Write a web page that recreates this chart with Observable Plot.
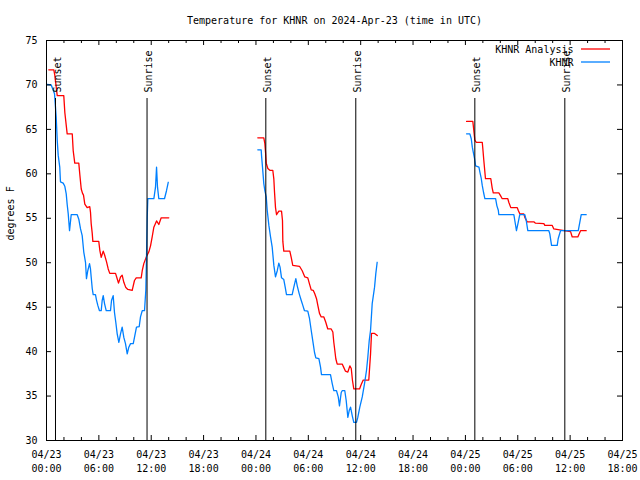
<!DOCTYPE html>
<html><head><meta charset="utf-8">
<script src="https://cdn.jsdelivr.net/npm/d3@7"></script>
<script src="https://cdn.jsdelivr.net/npm/@observablehq/plot@0.6"></script>
<style>html,body{margin:0;padding:0;background:#fff;} #chart{width:640px;height:480px;}</style>
</head><body><div id="chart"></div>
<script>
const chartTitle = "Temperature for KHNR on 2024-Apr-23 (time in UTC)";
const yLabel = "degrees F";
const seriesNames = ["KHNR Analysis", "KHNR"];
const seriesColors = ["#ff0000", "#0080ff"];
// x is hours since 04/23 00:00 UTC
const xMajorTicks = [0, 6, 12, 18, 24, 30, 36, 42, 48, 54, 60, 66];
const xTickLabels = ["04/23\n00:00","04/23\n06:00","04/23\n12:00","04/23\n18:00","04/24\n00:00","04/24\n06:00","04/24\n12:00","04/24\n18:00","04/25\n00:00","04/25\n06:00","04/25\n12:00","04/25\n18:00"];
const xMinorTicks = [2,4,8,10,14,16,20,22,26,28,32,34,38,40,44,46,50,52,56,58,62,64];
const yTicks = [30, 35, 40, 45, 50, 55, 60, 65, 70, 75];
const sunEventHours = [1.03, 11.52, 25.13, 35.44, 49.08, 59.39];
const sunEventNames = ["Sunset", "Sunrise", "Sunset", "Sunrise", "Sunset", "Sunrise"];

const analysisApr23 = [[0.26,71.7],[0.84,71.7],[0.95,71.1],[1.23,68.8],[1.98,68.8],[2.10,66.9],[2.37,64.5],[2.95,64.5],[3.06,62.6],[3.24,61.2],[3.70,61.2],[3.82,59.9],[3.98,58.3],[4.13,57.8],[4.24,57.6],[4.39,56.6],[4.66,56.2],[4.96,56.3],[5.04,55.7],[5.12,54.4],[5.24,53.3],[5.31,52.4],[5.99,52.4],[6.11,51.4],[6.27,50.6],[6.50,51.3],[6.65,50.9],[6.88,50.1],[7.07,49.3],[7.25,48.8],[7.91,48.8],[8.10,48.2],[8.25,47.7],[8.48,48.4],[8.67,48.6],[8.86,47.8],[9.09,47.2],[9.32,47.0],[9.82,46.9],[10.08,48.0],[10.28,48.3],[10.85,48.3],[10.97,49.1],[11.15,49.9],[11.46,50.7],[11.72,51.2],[11.92,51.9],[12.11,52.9],[12.30,54.0],[12.61,54.7],[12.87,54.3],[13.14,55.05],[14.01,55.05]];
const observedApr23 = [[0.08,70.05],[0.54,70.0],[0.77,69.4],[0.92,69.0],[1.03,67.5],[1.11,66.4],[1.23,63.75],[1.34,62.1],[1.52,60.75],[1.60,59.1],[1.91,58.95],[2.10,58.6],[2.26,57.75],[2.37,56.55],[2.49,55.5],[2.64,53.6],[2.83,55.4],[3.52,55.4],[3.70,54.9],[3.90,53.8],[4.09,53.05],[4.27,51.2],[4.47,50.05],[4.58,48.2],[4.73,49.1],[4.93,49.9],[5.04,49.3],[5.12,48.4],[5.24,47.1],[5.35,46.4],[5.61,46.4],[5.73,45.8],[5.88,45.2],[6.07,44.6],[6.27,44.6],[6.38,45.75],[6.50,46.3],[6.65,45.4],[6.84,44.6],[7.33,44.6],[7.45,45.75],[7.64,46.3],[7.79,44.4],[7.94,43.3],[8.10,42.0],[8.29,41.05],[8.48,42.0],[8.67,42.75],[8.86,41.6],[9.05,40.9],[9.25,39.75],[9.43,40.5],[9.63,40.9],[9.94,40.9],[10.12,41.8],[10.31,42.75],[10.62,42.8],[10.77,43.9],[10.97,44.6],[11.23,44.6],[11.38,46.9],[11.46,50.6],[11.54,55.1],[11.61,57.2],[12.30,57.2],[12.49,58.5],[12.61,60.75],[12.72,58.5],[12.87,57.2],[13.52,57.2],[13.75,58.1],[13.95,59.05]];
const analysisApr24 = [[24.21,64.05],[24.90,64.05],[25.02,63.4],[25.10,62.4],[25.18,61.2],[25.36,60.6],[25.59,60.4],[25.93,60.4],[26.05,59.4],[26.13,57.9],[26.24,56.2],[26.36,55.4],[26.62,55.8],[26.93,55.8],[27.04,54.75],[27.08,52.4],[27.19,51.3],[27.88,51.3],[28.04,50.6],[28.22,49.7],[28.99,49.6],[29.30,49.1],[29.60,48.4],[29.94,48.3],[30.14,47.6],[30.33,46.95],[30.56,46.9],[30.74,46.5],[30.94,45.95],[31.09,45.2],[31.28,44.3],[31.48,43.9],[31.78,43.9],[32.00,43.3],[32.23,42.55],[32.62,42.55],[32.81,42.2],[32.92,41.05],[33.04,40.1],[33.15,39.2],[33.31,38.6],[33.88,38.6],[34.07,38.2],[34.26,37.8],[34.53,37.7],[34.76,38.4],[34.92,38.1],[35.06,36.75],[35.21,35.8],[35.87,35.8],[36.06,36.3],[36.29,36.8],[36.93,36.8],[37.13,39.75],[37.24,42.05],[37.59,42.05],[37.90,41.8]];
const observedApr24 = [[24.21,62.7],[24.60,62.7],[24.64,62.05],[24.75,60.75],[24.90,58.9],[25.02,58.1],[25.18,57.4],[25.29,55.9],[25.48,54.2],[25.67,52.9],[25.86,51.75],[26.05,49.7],[26.24,48.4],[26.44,49.1],[26.62,49.95],[26.76,49.5],[26.93,48.3],[27.19,48.1],[27.35,47.25],[27.50,46.4],[28.15,46.4],[28.34,47.25],[28.57,48.2],[28.73,47.4],[28.96,46.5],[29.19,45.75],[29.37,45.2],[29.56,44.6],[29.94,44.55],[30.14,43.7],[30.33,42.4],[30.56,40.9],[30.71,39.9],[30.86,39.3],[31.21,39.2],[31.40,38.25],[31.51,37.4],[32.54,37.4],[32.74,36.4],[32.92,35.6],[33.23,35.6],[33.43,34.9],[33.57,33.9],[33.77,35.4],[33.88,35.6],[34.18,35.6],[34.34,34.5],[34.53,32.6],[34.69,33.4],[34.84,33.75],[35.03,32.8],[35.21,32.05],[35.52,32.05],[35.67,32.6],[35.90,33.75],[36.18,34.9],[36.44,36.4],[36.67,37.9],[36.82,39.4],[36.98,41.25],[37.13,42.4],[37.32,45.4],[37.59,47.25],[37.73,48.75],[37.89,50.05]];
const analysisApr25 = [[48.13,65.9],[48.85,65.9],[48.96,64.9],[49.08,63.8],[49.24,63.55],[49.93,63.55],[50.00,62.8],[50.11,61.5],[50.23,60.2],[50.30,59.45],[50.91,59.45],[51.07,58.4],[51.19,57.85],[51.83,57.85],[52.02,57.55],[52.22,57.2],[52.86,57.2],[52.97,56.8],[53.20,56.2],[53.94,56.2],[54.05,55.9],[54.23,55.5],[54.69,55.5],[54.81,55.1],[55.08,54.6],[55.84,54.6],[56.03,54.45],[56.99,54.4],[57.10,54.2],[57.95,54.2],[58.13,53.8],[58.79,53.7],[60.05,53.5],[60.24,52.9],[60.88,52.9],[61.19,53.6],[61.84,53.6]];
const observedApr25 = [[48.13,64.5],[48.51,64.5],[48.67,63.95],[48.79,63.0],[48.90,62.45],[49.05,61.7],[49.17,60.9],[49.55,60.75],[49.66,60.2],[49.82,59.45],[49.93,58.7],[50.08,57.9],[50.23,57.2],[51.46,57.2],[51.61,56.4],[51.77,55.9],[51.83,55.4],[53.55,55.4],[53.66,54.75],[53.85,53.6],[54.05,54.55],[54.23,55.4],[54.81,55.4],[54.97,54.75],[55.15,53.6],[57.56,53.6],[57.67,53.25],[57.87,51.95],[58.52,51.95],[58.63,52.7],[58.90,53.6],[60.93,53.6],[61.08,54.4],[61.27,55.4],[61.84,55.4]];

const toRows = (arr, day) => arr.map(([h, t]) => ({h, t, day}));
const analysisRows = [...toRows(analysisApr23, 1), ...toRows(analysisApr24, 2), ...toRows(analysisApr25, 3)];
const observedRows = [...toRows(observedApr23, 1), ...toRows(observedApr24, 2), ...toRows(observedApr25, 3)];
const sunEvents = sunEventHours.map((h, i) => ({h, name: sunEventNames[i]}));

const W = 640, H = 480, mL = 46, mR = 18, mT = 40, mB = 40;
const plotW = W - mL - mR, plotH = H - mT - mB;
const font = "'DejaVu Sans Mono', monospace";

const plot = Plot.plot({
  width: W, height: H,
  marginLeft: mL, marginRight: mR, marginTop: mT, marginBottom: mB,
  style: {fontFamily: font, fontSize: "10px", background: "#fff", color: "#000", overflow: "visible"},
  x: {domain: [0, 66], axis: null},
  y: {domain: [30, 75], axis: null},
  marks: [
    Plot.line(analysisRows, {x: "h", y: "t", z: "day", stroke: seriesColors[0], strokeWidth: 1.3}),
    Plot.line(observedRows, {x: "h", y: "t", z: "day", stroke: seriesColors[1], strokeWidth: 1.3}),
    Plot.ruleX(sunEvents, {x: "h", insetTop: 58, stroke: "#000", strokeWidth: 1}),
    Plot.text(sunEvents, {x: "h", text: "name", frameAnchor: "top", dy: 52, dx: 2, rotate: -90, textAnchor: "start", lineAnchor: "middle", fontSize: 10, fill: "#000"}),
    Plot.frame({stroke: "#000", strokeWidth: 1}),
    Plot.ruleX(xMajorTicks, {x: d => d, insetTop: plotH - 5, stroke: "#000"}),
    Plot.ruleX(xMajorTicks, {x: d => d, insetBottom: plotH - 5, stroke: "#000"}),
    Plot.ruleX(xMinorTicks, {x: d => d, insetTop: plotH - 3, stroke: "#000"}),
    Plot.ruleX(xMinorTicks, {x: d => d, insetBottom: plotH - 3, stroke: "#000"}),
    Plot.ruleY(yTicks, {y: d => d, insetRight: plotW - 5, stroke: "#000"}),
    Plot.ruleY(yTicks, {y: d => d, insetLeft: plotW - 5, stroke: "#000"}),
    Plot.axisX(xMajorTicks, {anchor: "bottom", tickSize: 0, tickPadding: 8, label: null, fontSize: 10, lineHeight: 1.4, tickFormat: d => xTickLabels[xMajorTicks.indexOf(d)]}),
    Plot.axisY(yTicks, {anchor: "left", tickSize: 0, tickPadding: 9, label: null, fontSize: 10, tickFormat: d => String(d)}),
    Plot.text([chartTitle], {frameAnchor: "top", dy: -20, lineAnchor: "middle", fontSize: 10, fill: "#000"}),
    Plot.text([yLabel], {frameAnchor: "left", dx: -36, rotate: -90, lineAnchor: "middle", fontSize: 10, fill: "#000"}),
    Plot.text([seriesNames[0]], {frameAnchor: "top-right", dx: -49, dy: 9, textAnchor: "end", lineAnchor: "middle", fontSize: 10, fill: "#000"}),
    Plot.text([seriesNames[1]], {frameAnchor: "top-right", dx: -49, dy: 22, textAnchor: "end", lineAnchor: "middle", fontSize: 10, fill: "#000"})
  ]
});
document.getElementById("chart").appendChild(plot);

// legend line samples
const svg = d3.select(plot);
seriesColors.forEach((c, i) => {
  const yy = mT + 9 + i * 13;
  svg.append("line").attr("x1", W - mR - 41).attr("x2", W - mR - 12)
    .attr("y1", yy).attr("y2", yy).attr("stroke", c).attr("stroke-width", 1.3);
});
</script>
</body></html>
